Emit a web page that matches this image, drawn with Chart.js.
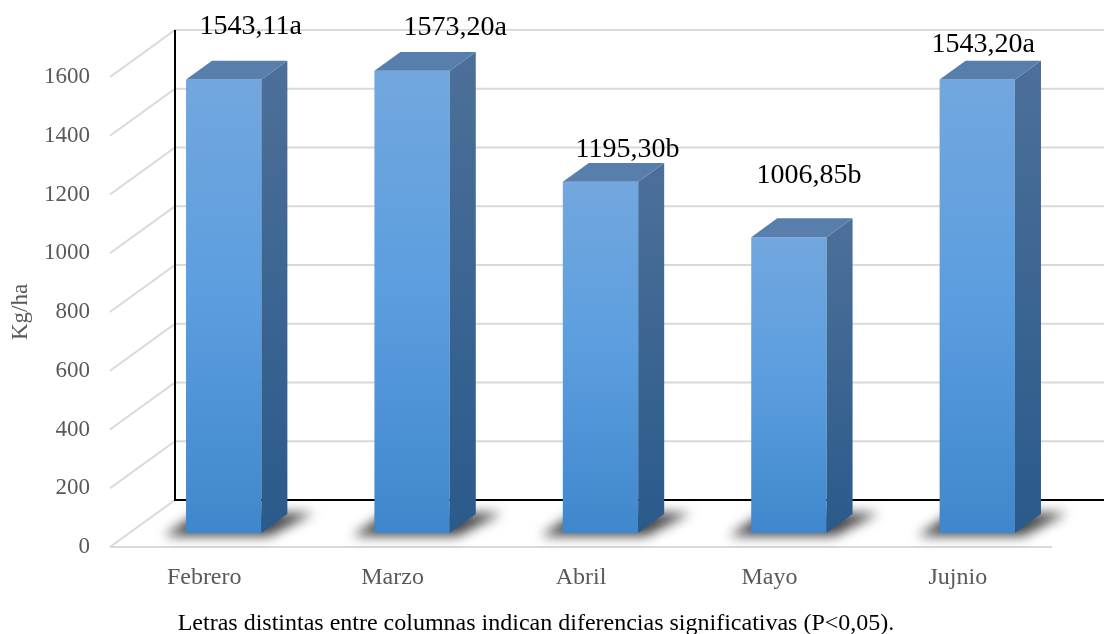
<!DOCTYPE html>
<html lang="es">
<head>
<meta charset="UTF-8">
<title>Kg/ha por mes</title>
<script src="https://cdn.jsdelivr.net/npm/chart.js"></script>
<style>
  body { margin: 0; background: #fff; }
  #wrap { width: 1104px; height: 634px; }
</style>
</head>
<body>
<div id="wrap"><canvas id="barChart"></canvas></div>
<script>
// data
const categories = ['Febrero', 'Marzo', 'Abril', 'Mayo', 'Jujnio'];
const values = [1543.11, 1573.20, 1195.30, 1006.85, 1543.20];
const letters = ['a', 'a', 'b', 'b', 'a'];
const yTicks = [0, 200, 400, 600, 800, 1000, 1200, 1400, 1600];
const note = 'Letras distintas entre columnas indican diferencias significativas (P<0,05).';

const FONT = "'Liberation Serif', 'Times New Roman', serif";
const GRAY = '#595959';

// oblique depth of the floor, and where the bars sit in it
const DEPTH = { dx: 65, dy: -47 };
const BAR_FRONT = 0.3, BAR_DEPTH = 0.4;
// hand placed value labels (offset from the bar's front top centre)
const labelNudge = [[27, -46], [43, -36], [27, -25], [20, -54], [6, -28]];

function fmt(v) { return v.toFixed(2).replace('.', ','); }

const box3d = {
  id: 'box3d',
  beforeDatasetsDraw(chart) {
    const { ctx, chartArea: a, scales: { y } } = chart;
    const y0 = y.getPixelForValue(0);
    ctx.save();
    // side wall + back wall gridlines
    ctx.strokeStyle = '#d9d9d9';
    ctx.lineWidth = 2;
    yTicks.forEach(v => {
      const py = y.getPixelForValue(v);
      ctx.beginPath();
      ctx.moveTo(a.left, py);
      ctx.lineTo(a.left + DEPTH.dx, py + DEPTH.dy);
      ctx.lineTo(chart.width, py + DEPTH.dy);
      ctx.stroke();
    });
    ctx.beginPath();
    ctx.moveTo(a.left, y0);
    ctx.lineTo(a.right, y0);
    ctx.stroke();
    // black frame of the back wall
    ctx.strokeStyle = '#000';
    ctx.lineWidth = 2;
    ctx.beginPath();
    ctx.moveTo(a.left + DEPTH.dx, y.getPixelForValue(yTicks[yTicks.length - 1]) + DEPTH.dy);
    ctx.lineTo(a.left + DEPTH.dx, y0 + DEPTH.dy);
    ctx.lineTo(chart.width, y0 + DEPTH.dy);
    ctx.stroke();
    ctx.restore();

    // move into the bars' depth plane
    ctx.save();
    ctx.translate(DEPTH.dx * BAR_FRONT, DEPTH.dy * BAR_FRONT);
    const ddx = DEPTH.dx * BAR_DEPTH, ddy = DEPTH.dy * BAR_DEPTH;
    // floor shadows
    chart.getDatasetMeta(0).data.forEach(bar => {
      const l = bar.x - bar.width / 2, r = bar.x + bar.width / 2, b = bar.base;
      ctx.save();
      ctx.filter = 'blur(6px)';
      ctx.fillStyle = 'rgba(25,25,25,0.8)';
      ctx.beginPath();
      ctx.moveTo(l - 22, b + 3);
      ctx.lineTo(r + 8, b + 3);
      ctx.lineTo(r + ddx + 26, b + ddy - 1);
      ctx.lineTo(l + 12, b + ddy - 1);
      ctx.closePath();
      ctx.fill();
      ctx.restore();
    });
  },
  afterDatasetsDraw(chart) {
    const { ctx } = chart;
    const ddx = DEPTH.dx * BAR_DEPTH, ddy = DEPTH.dy * BAR_DEPTH;
    const meta = chart.getDatasetMeta(0);
    meta.data.forEach(bar => {
      const l = bar.x - bar.width / 2, r = bar.x + bar.width / 2;
      const t = bar.y, b = bar.base;
      // right side face
      const g = ctx.createLinearGradient(0, t, 0, b);
      g.addColorStop(0, '#4b6f98');
      g.addColorStop(1, '#2a5a8b');
      ctx.fillStyle = g;
      ctx.beginPath();
      ctx.moveTo(r, t);
      ctx.lineTo(r + ddx, t + ddy);
      ctx.lineTo(r + ddx, b + ddy);
      ctx.lineTo(r, b);
      ctx.closePath();
      ctx.fill();
      // top face
      ctx.fillStyle = '#587fab';
      ctx.beginPath();
      ctx.moveTo(l, t);
      ctx.lineTo(l + ddx, t + ddy);
      ctx.lineTo(r + ddx, t + ddy);
      ctx.lineTo(r, t);
      ctx.closePath();
      ctx.fill();
    });
    // value labels
    ctx.fillStyle = '#000';
    ctx.font = '28px ' + FONT;
    ctx.textAlign = 'center';
    ctx.textBaseline = 'alphabetic';
    meta.data.forEach((bar, i) => {
      const n = labelNudge[i];
      ctx.fillText(fmt(values[i]) + letters[i], bar.x + n[0], bar.y + n[1]);
    });
    ctx.restore();

    // footnote
    ctx.save();
    ctx.fillStyle = '#000';
    ctx.font = '24px ' + FONT;
    ctx.textAlign = 'center';
    ctx.fillText(note, 536, 630);
    ctx.restore();
  }
};

new Chart(document.getElementById('barChart'), {
  type: 'bar',
  data: {
    labels: categories,
    datasets: [{
      data: values,
      barPercentage: 0.4,
      categoryPercentage: 1,
      clip: false,
      backgroundColor: ctx => {
        const chart = ctx.chart;
        if (!chart.chartArea) return '#5b9bd5';
        const y = chart.scales.y;
        const g = chart.ctx.createLinearGradient(0, y.getPixelForValue(ctx.raw), 0, y.getPixelForValue(0));
        g.addColorStop(0, '#72a7de');
        g.addColorStop(0.5, '#5a9ddf');
        g.addColorStop(1, '#3f87cc');
        return g;
      }
    }]
  },
  options: {
    responsive: true,
    maintainAspectRatio: false,
    animation: false,
    layout: { padding: { left: 0, top: 77, right: 52, bottom: 0 } },
    plugins: { legend: { display: false }, tooltip: { enabled: false } },
    scales: {
      x: {
        grid: { display: false, drawTicks: false },
        border: { display: false },
        ticks: { color: GRAY, font: { family: FONT, size: 24 }, padding: 16 },
        afterFit: s => { s.height = 87; }
      },
      y: {
        min: 0,
        max: 1600,
        grid: { display: false, drawTicks: false },
        border: { display: false },
        ticks: {
          stepSize: 200, color: GRAY, font: { family: FONT, size: 23 }, padding: 20,
          callback: v => String(v)
        },
        title: { display: true, text: 'Kg/ha', color: GRAY, font: { family: FONT, size: 23 }, padding: { top: 7, bottom: 0 } },
        afterFit: s => { s.width = 110; }
      }
    }
  },
  plugins: [box3d]
});
</script>
</body>
</html>
